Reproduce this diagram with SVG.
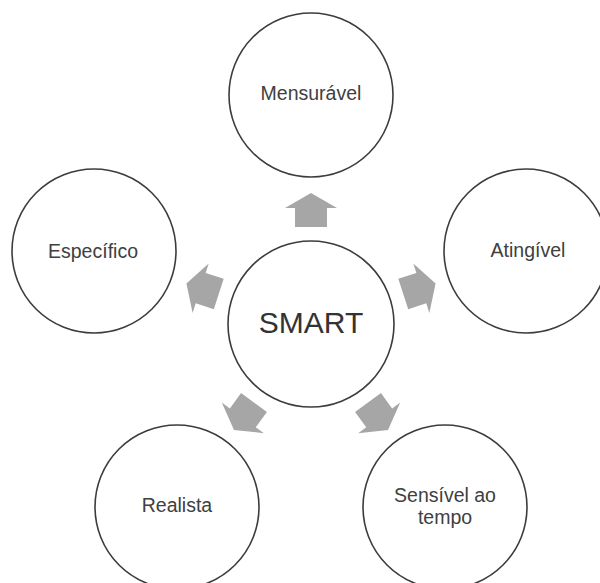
<svg xmlns="http://www.w3.org/2000/svg" width="600" height="583" viewBox="0 0 600 583">
<style>
.node{fill:#ffffff;stroke:#3c3c3c;stroke-width:1.6}
.lbl{font-family:"Liberation Sans",Arial,sans-serif;font-size:19.5px;fill:#404040;text-anchor:middle}
.big{font-size:30px;fill:#333333}
.arr{fill:#a6a6a6}
</style>
<defs>
<path id="uparrow" d="M311,193 L337,208 L327,208 L327,227 L295,227 L295,208 L285,208 Z"/>
</defs>
<rect width="600" height="583" fill="#ffffff"/>
<g id="connectors">
<use href="#uparrow" class="arr"/>
<use href="#uparrow" class="arr" transform="rotate(72 311 324)"/>
<use href="#uparrow" class="arr" transform="rotate(144 311 324)"/>
<use href="#uparrow" class="arr" transform="rotate(-144 311 324)"/>
<use href="#uparrow" class="arr" transform="rotate(-72 311 324)"/>
</g>
<g id="smart">
<circle class="node" cx="311" cy="324" r="83"/>
<text class="lbl big" x="311" y="333">SMART</text>
</g>
<g id="mensuravel">
<circle class="node" cx="311" cy="95" r="82"/>
<text class="lbl" x="311" y="100">Mensurável</text>
</g>
<g id="atingivel">
<circle class="node" cx="526" cy="251" r="82"/>
<text class="lbl" x="528" y="257">Atingível</text>
</g>
<g id="sensivel">
<circle class="node" cx="445" cy="507" r="82"/>
<text class="lbl" x="445" y="502">Sensível ao</text>
<text class="lbl" x="445" y="524">tempo</text>
</g>
<g id="realista">
<circle class="node" cx="177" cy="507" r="82"/>
<text class="lbl" x="177" y="512">Realista</text>
</g>
<g id="especifico">
<circle class="node" cx="94" cy="251" r="82"/>
<text class="lbl" x="93" y="258">Específico</text>
</g>
</svg>
